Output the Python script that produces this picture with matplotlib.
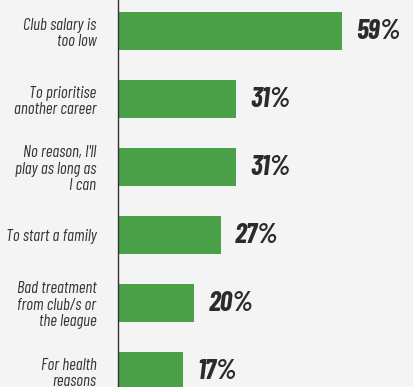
import matplotlib
matplotlib.use("Agg")
import matplotlib.pyplot as plt

reasons = ["Club salary is\ntoo low",
           "To prioritise\nanother career",
           "No reason, I'll\nplay as long as\nI can",
           "To start a family",
           "Bad treatment\nfrom club/s or\nthe league",
           "For health\nreasons"]
shares = [59, 31, 31, 27, 20, 17]

bg = "#f4f4f4"
green = "#4aa148"
dark = "#2b2b2b"
fonts = ["Barlow Condensed", "DejaVu Sans"]

fig = plt.figure(figsize=(4.14, 3.87), dpi=100, facecolor=bg)
ax = fig.add_axes([118.5 / 414, 0, 1 - 118.5 / 414, 1], facecolor=bg)

pos = list(range(len(shares)))
ax.barh(pos, shares, height=38 / 68, color=green)

for p, v in zip(pos, shares):
    ax.text(v + 3.7, p, f"{v}%", va="center", ha="left", fontsize=20,
            fontweight="bold", fontstyle="italic", color=dark, family=fonts)

ax.set_xlim(0, 295.5 / 3.79)
ax.set_ylim(5 + 16 / 68, -31 / 68)
ax.set_yticks(pos)
ax.set_yticklabels(reasons, fontsize=12, fontstyle="italic", fontweight="normal",
                   color="#333333", family=fonts, linespacing=1.1)
ax.tick_params(axis="y", length=0, pad=16)
ax.set_xticks([])
for s in ["top", "right", "bottom"]:
    ax.spines[s].set_visible(False)
ax.spines["left"].set_color("#333333")
ax.spines["left"].set_linewidth(1.0)

fig.savefig("out.png", dpi=100, facecolor=bg)
